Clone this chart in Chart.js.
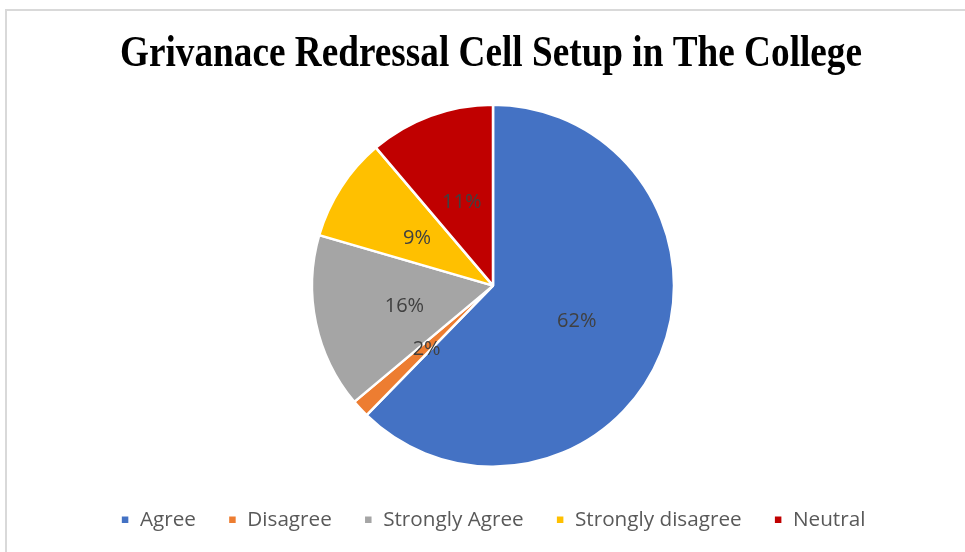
<!DOCTYPE html>
<html>
<head>
<meta charset="utf-8">
<script src="https://cdn.jsdelivr.net/npm/chart.js@4.4.1/dist/chart.umd.min.js"></script>
<style>
  html, body { margin: 0; padding: 0; background: #ffffff; }
  #wrap { position: relative; width: 965px; height: 552px; }
  #frame { position: absolute; left: 5px; top: 9px; width: 970px; height: 560px;
           border-top: 2px solid #d9d9d9; border-left: 2px solid #d9d9d9; box-sizing: border-box; }
  canvas { position: absolute; left: 0; top: 0; }
</style>
</head>
<body>
<div id="wrap">
  <div id="frame"></div>
  <canvas id="chart" width="965" height="552"></canvas>
</div>
<script>
// Survey responses (percent of respondents)
const chartTitle = 'Grivanace Redressal Cell Setup in The College';
const categories = ['Agree', 'Disagree', 'Strongly Agree', 'Strongly disagree', 'Neutral'];
const shares = [62.3, 1.6, 15.6, 9.3, 11.2];
const sliceColors = ['#4472C4', '#ED7D31', '#A5A5A5', '#FFC000', '#C00000'];

// Condensed bold serif title across the top
const titlePlugin = {
  id: 'condensedTitle',
  afterDraw(chart) {
    const ctx = chart.ctx;
    ctx.save();
    ctx.font = 'bold 45px "Liberation Serif", "Times New Roman", serif';
    ctx.fillStyle = '#000000';
    ctx.textBaseline = 'alphabetic';
    ctx.textAlign = 'left';
    const w = ctx.measureText(chartTitle).width;
    const target = 742;
    const sx = target / w;
    ctx.translate(491 - target / 2, 66);
    ctx.scale(sx, 1);
    ctx.fillText(chartTitle, 0, 0);
    ctx.restore();
  }
};

// Percentage labels at the middle of each slice
const sliceLabels = {
  id: 'sliceLabels',
  afterDatasetsDraw(chart) {
    const ctx = chart.ctx;
    const ds = chart.data.datasets[0];
    const total = ds.data.reduce((a, b) => a + b, 0);
    const meta = chart.getDatasetMeta(0);
    ctx.save();
    ctx.font = '20px "Open Sans", "Noto Sans", sans-serif';
    ctx.fillStyle = '#404040';
    ctx.textAlign = 'center';
    ctx.textBaseline = 'middle';
    meta.data.forEach((arc, i) => {
      const p = arc.getCenterPoint();
      const pct = Math.round(ds.data[i] / total * 100) + '%';
      ctx.fillText(pct, p.x, p.y + 2);
    });
    ctx.restore();
  }
};

new Chart(document.getElementById('chart'), {
  type: 'pie',
  data: {
    labels: categories,
    datasets: [{
      data: shares,
      backgroundColor: sliceColors,
      borderColor: '#ffffff',
      borderWidth: 2.5,
      radius: 181
    }]
  },
  options: {
    responsive: false,
    animation: false,
    layout: { padding: { top: 94, bottom: 12, left: 21, right: 0 } },
    plugins: {
      title: { display: false },
      tooltip: { enabled: false },
      legend: {
        position: 'bottom',
        labels: {
          usePointStyle: true,
          pointStyle: 'rect',
          boxWidth: 9,
          boxHeight: 9,
          padding: 32,
          color: '#595959',
          font: { family: '"Open Sans", "Noto Sans", sans-serif', size: 20.7 }
        }
      }
    }
  },
  plugins: [titlePlugin, sliceLabels]
});
</script>
</body>
</html>
